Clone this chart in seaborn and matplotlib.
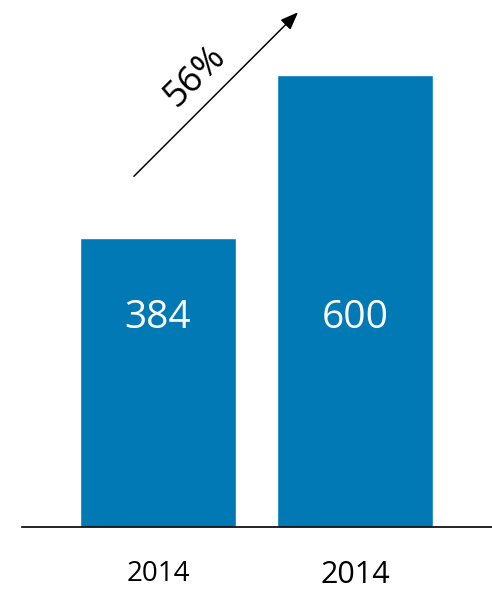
import matplotlib
matplotlib.use("Agg")
import matplotlib.pyplot as plt
import seaborn as sns
import pandas as pd

categories = ["2014", "2014 "]
values = [384, 600]
growth_label = "56%"

sns.set_theme(style="white")
plt.rcParams['font.family'] = ['Open Sans', 'DejaVu Sans']

df = pd.DataFrame({"year": categories, "value": values})

fig = plt.figure(figsize=(4.92, 5.91), dpi=100)
ax = fig.add_axes([0.0447, 1 - 527 / 591, 1 - 0.0447, 527 / 591])

sns.barplot(data=df, x="year", y="value", color="#0079B5", saturation=1,
            width=0.79, ax=ax)

ax.set_xlim(-0.690, 1.695)
ax.set_ylim(0, 699.6)

for i, v in enumerate(values):
    ax.text(i, 277, str(v), color="white", ha="center", va="center",
            fontsize=28)

ax.set_xlabel("")
ax.set_ylabel("")
ax.set_yticks([])
ax.set_xticks([0, 1])
ax.set_xticklabels(["2014", "2014"])
ax.tick_params(axis="x", length=0, pad=24, labelsize=20, colors="black")
ax.get_xticklabels()[1].set_fontsize(22)
for s in ["top", "right", "left"]:
    ax.spines[s].set_visible(False)
ax.spines["bottom"].set_color("black")
ax.spines["bottom"].set_linewidth(1.2)

ax.annotate("", xy=(0.721, 686), xytext=(-0.132, 463),
            arrowprops=dict(arrowstyle="-|>,head_length=0.9,head_width=0.35",
                            color="black", lw=1.1))
ax.text(0.188, 598, growth_label, rotation=45, ha="center", va="center",
        fontsize=26, color="black", rotation_mode="anchor")

fig.savefig("out.png", dpi=100)
